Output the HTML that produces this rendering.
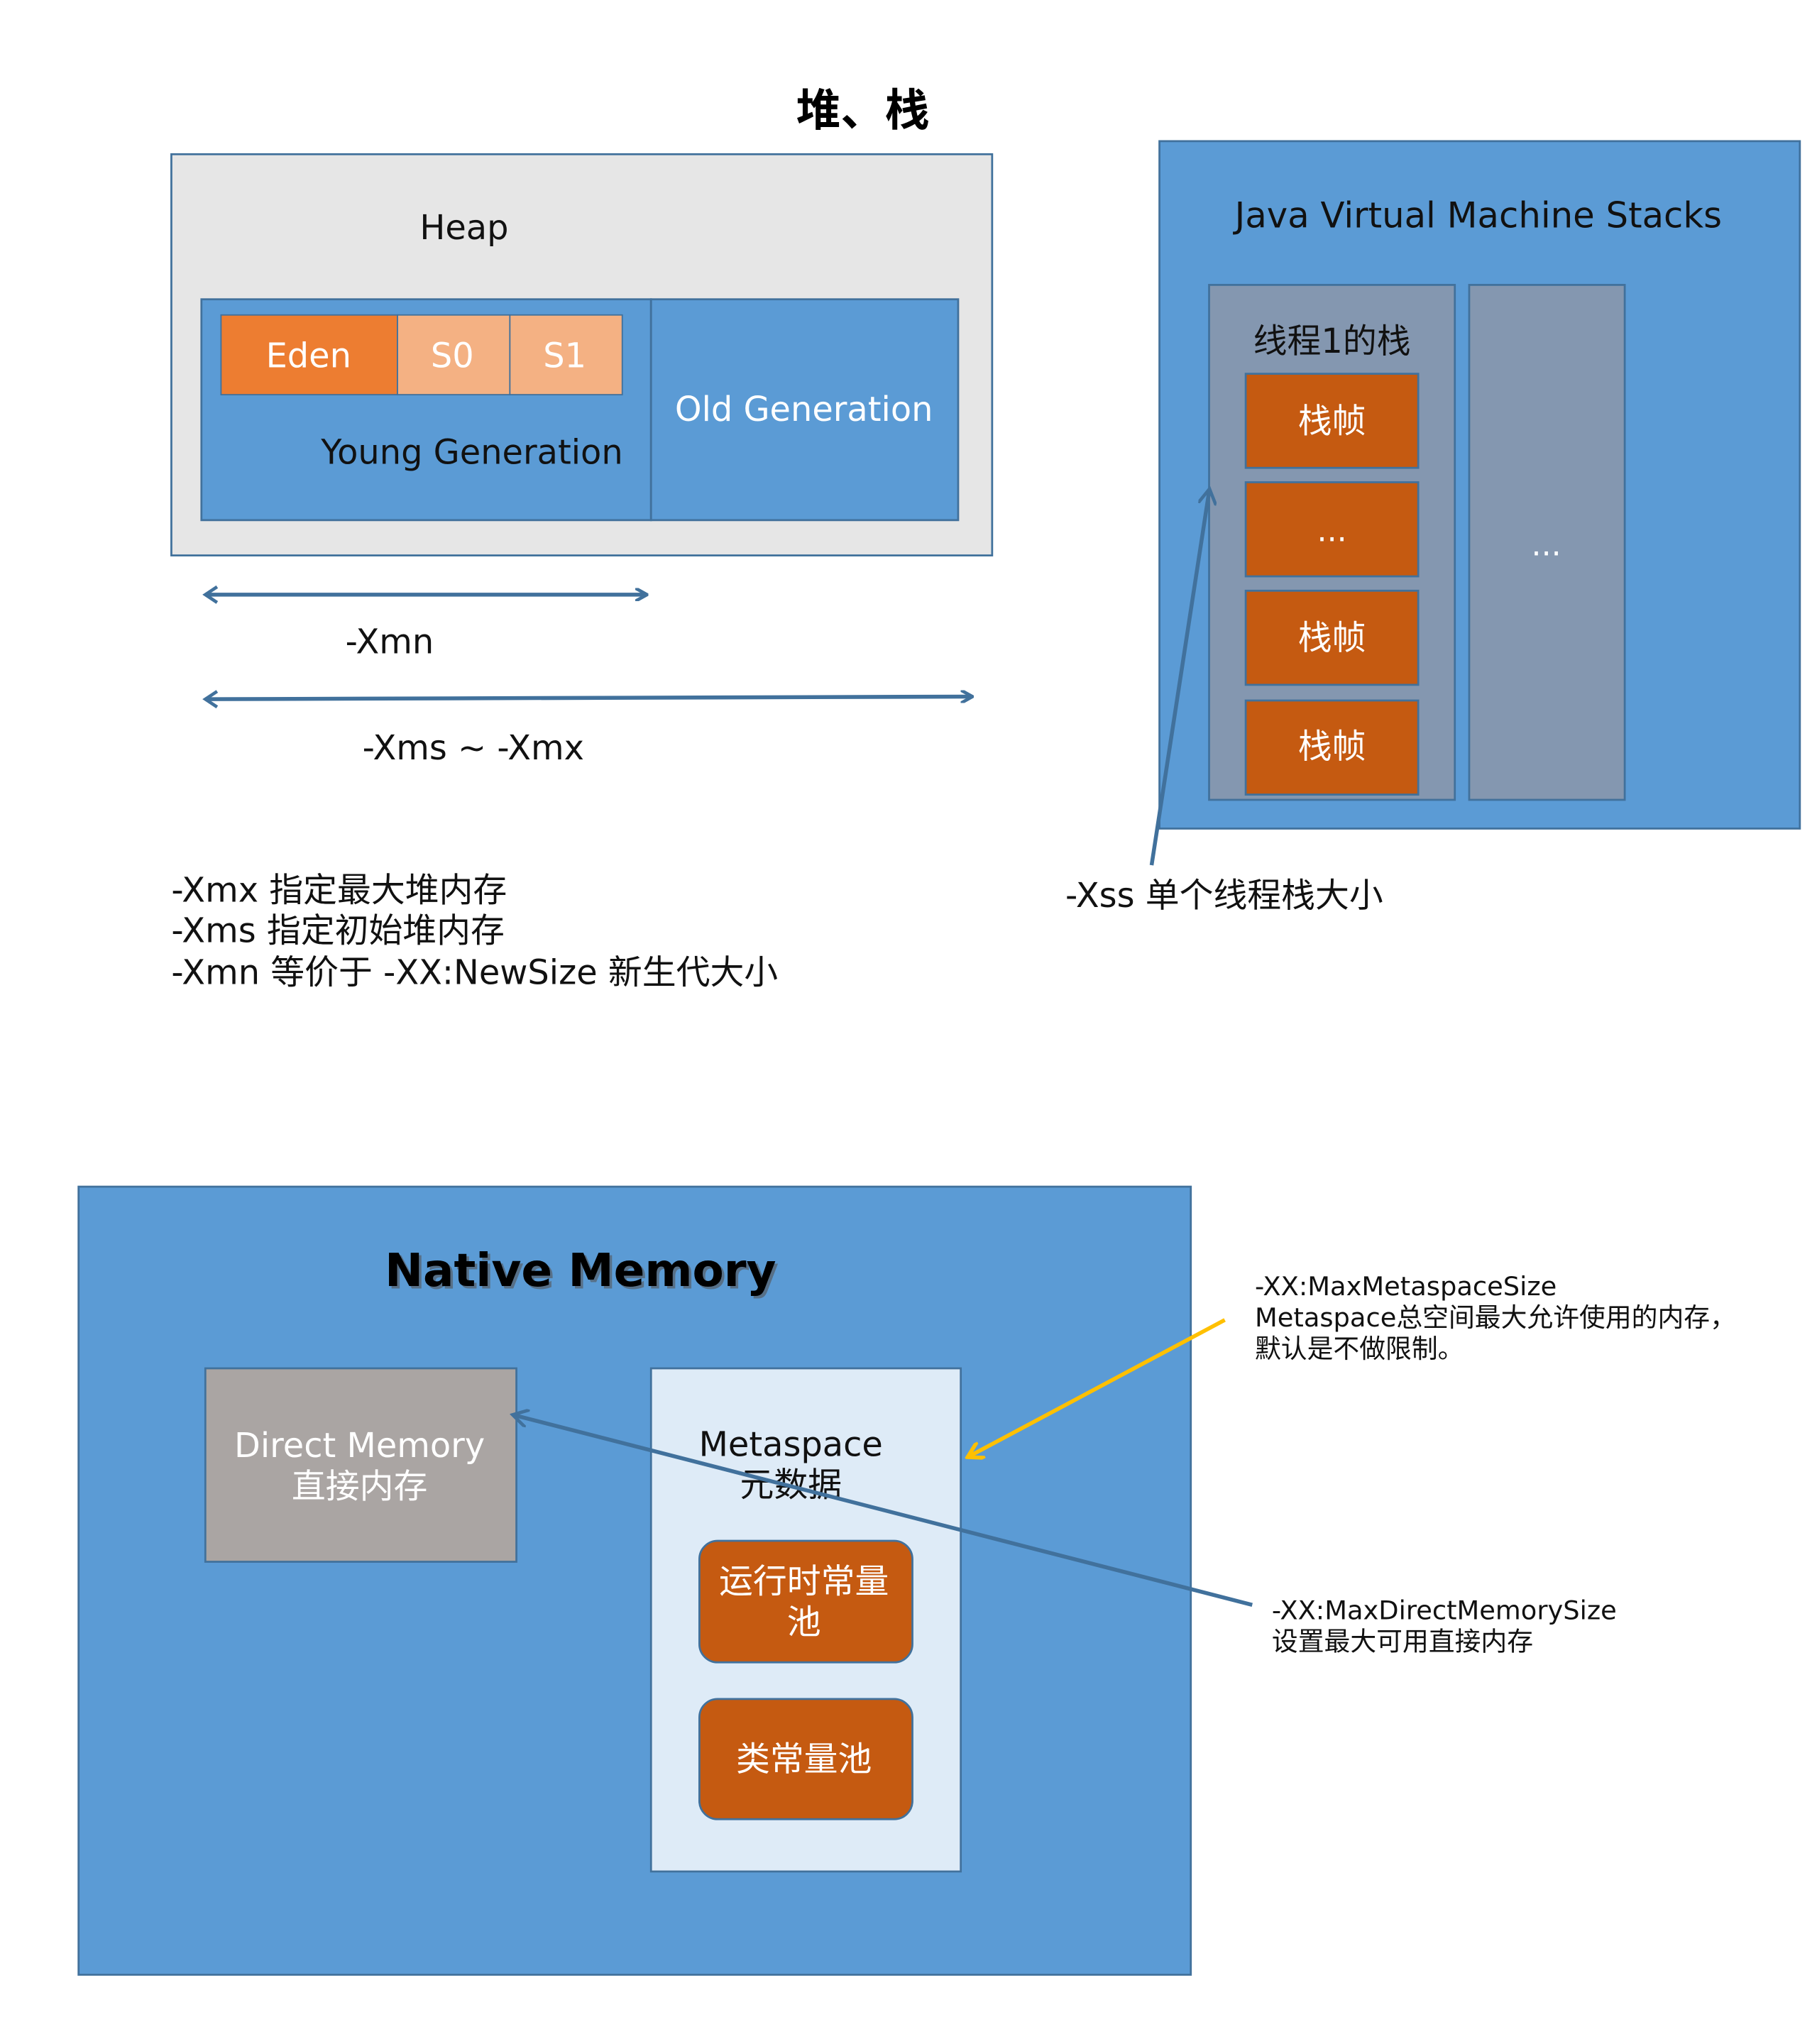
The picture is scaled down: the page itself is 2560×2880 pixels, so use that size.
<!DOCTYPE html>
<html><head><meta charset="utf-8"><style>
html,body{margin:0;padding:0;background:#fff;}
svg{display:block;}
text{font-family:"DejaVu Sans","Liberation Sans","Noto Sans CJK SC",sans-serif;}
</style></head><body>
<svg width="2560" height="2880" viewBox="0 0 1390 1564" xmlns="http://www.w3.org/2000/svg">
<defs>
<marker id="ab" markerWidth="10" markerHeight="10" refX="8" refY="5" orient="auto" markerUnits="userSpaceOnUse">
<path d="M0,0 L9,5 L0,10" fill="none" stroke="#41719c" stroke-width="2.5"/></marker>
<marker id="ay" markerWidth="14" markerHeight="14" refX="10" refY="7" orient="auto" markerUnits="userSpaceOnUse">
<path d="M0,0 L12,7 L0,14" fill="none" stroke="#ffc000" stroke-width="3"/></marker>
<marker id="ab2" markerWidth="14" markerHeight="14" refX="10" refY="7" orient="auto" markerUnits="userSpaceOnUse">
<path d="M0,0 L12,7 L0,14" fill="none" stroke="#41719c" stroke-width="2.5"/></marker>
</defs>
<rect width="1390" height="1564" fill="#fff"/>
<text x="660" y="96" font-size="34" font-weight="bold" text-anchor="middle">堆、栈</text>
<rect x="131" y="118" width="628" height="307" fill="#e6e6e6" stroke="#41719c" stroke-width="1.5"/>
<text x="355" y="183" font-size="26" text-anchor="middle" fill="#111">Heap</text>
<rect x="154" y="229" width="344" height="169" fill="#5b9bd5" stroke="#41719c" stroke-width="1.5"/>
<rect x="498" y="229" width="235" height="169" fill="#5b9bd5" stroke="#41719c" stroke-width="1.5"/>
<rect x="169" y="241" width="135" height="61" fill="#ed7d31" stroke="#41719c" stroke-width="1"/>
<rect x="304" y="241" width="86" height="61" fill="#f4b183" stroke="#41719c" stroke-width="1"/>
<rect x="390" y="241" width="86" height="61" fill="#f4b183" stroke="#41719c" stroke-width="1"/>
<text x="236" y="281" font-size="26" text-anchor="middle" fill="#fff">Eden</text>
<text x="346" y="281" font-size="26" text-anchor="middle" fill="#fff">S0</text>
<text x="432" y="281" font-size="26" text-anchor="middle" fill="#fff">S1</text>
<text x="361" y="355" font-size="26" text-anchor="middle" fill="#111">Young Generation</text>
<text x="615" y="322" font-size="26" text-anchor="middle" fill="#fff">Old Generation</text>
<line x1="157" y1="455" x2="494" y2="455" stroke="#41719c" stroke-width="3" marker-end="url(#ab)"/>
<path d="M166,449 L157,455 L166,461" fill="none" stroke="#41719c" stroke-width="2.5"/>
<text x="298" y="500" font-size="26" text-anchor="middle" fill="#111">-Xmn</text>
<line x1="157" y1="535" x2="743" y2="533" stroke="#41719c" stroke-width="3" marker-end="url(#ab)"/>
<path d="M166,529 L157,535 L166,541" fill="none" stroke="#41719c" stroke-width="2.5"/>
<text x="362" y="581" font-size="26" text-anchor="middle" fill="#111">-Xms ~ -Xmx</text>
<text x="131" y="690" font-size="26" fill="#111">-Xmx 指定最大堆内存</text>
<text x="131" y="721" font-size="26" fill="#111">-Xms 指定初始堆内存</text>
<text x="131" y="753" font-size="26" fill="#111">-Xmn 等价于 -XX:NewSize 新生代大小</text>
<rect x="887" y="108" width="490" height="526" fill="#5b9bd5" stroke="#41719c" stroke-width="1.5"/>
<text x="1131" y="174" font-size="27" text-anchor="middle" fill="#111">Java Virtual Machine Stacks</text>
<rect x="925" y="218" width="188" height="394" fill="#8497b0" stroke="#41719c" stroke-width="1.5"/>
<rect x="1124" y="218" width="119" height="394" fill="#8497b0" stroke="#41719c" stroke-width="1.5"/>
<text x="1183" y="425" font-size="24" text-anchor="middle" fill="#fff">...</text>
<text x="1019" y="270" font-size="26" text-anchor="middle" fill="#111">线程1的栈</text>
<rect x="953" y="286" width="132" height="72" fill="#c55a11" stroke="#41719c" stroke-width="1.5"/>
<rect x="953" y="369" width="132" height="72" fill="#c55a11" stroke="#41719c" stroke-width="1.5"/>
<rect x="953" y="452" width="132" height="72" fill="#c55a11" stroke="#41719c" stroke-width="1.5"/>
<rect x="953" y="536" width="132" height="72" fill="#c55a11" stroke="#41719c" stroke-width="1.5"/>
<text x="1019" y="331" font-size="26" text-anchor="middle" fill="#fff">栈帧</text>
<text x="1019" y="414" font-size="24" text-anchor="middle" fill="#fff">...</text>
<text x="1019" y="497" font-size="26" text-anchor="middle" fill="#fff">栈帧</text>
<text x="1019" y="580" font-size="26" text-anchor="middle" fill="#fff">栈帧</text>
<line x1="881" y1="662" x2="925" y2="376" stroke="#41719c" stroke-width="3" marker-end="url(#ab2)"/>
<text x="815" y="694" font-size="26" fill="#111">-Xss 单个线程栈大小</text>
<rect x="60" y="908" width="851" height="603" fill="#5b9bd5" stroke="#41719c" stroke-width="1.5"/>
<text x="446" y="986" font-size="35" font-weight="bold" text-anchor="middle" fill="#555" opacity="0.6">Native Memory</text>
<text x="444" y="984" font-size="35" font-weight="bold" text-anchor="middle" fill="#000">Native Memory</text>
<rect x="157" y="1047" width="238" height="148" fill="#aaa5a3" stroke="#41719c" stroke-width="1.5"/>
<text x="275" y="1115" font-size="26" text-anchor="middle" fill="#fff">Direct Memory</text>
<text x="275" y="1146" font-size="26" text-anchor="middle" fill="#fff">直接内存</text>
<rect x="498" y="1047" width="237" height="385" fill="#deebf7" stroke="#41719c" stroke-width="1.5"/>
<text x="605" y="1114" font-size="26" text-anchor="middle" fill="#111">Metaspace</text>
<text x="605" y="1145" font-size="26" text-anchor="middle" fill="#111">元数据</text>
<rect x="535" y="1179" width="163" height="93" rx="14" fill="#c55a11" stroke="#41719c" stroke-width="1.5"/>
<text x="615" y="1219" font-size="26" text-anchor="middle" fill="#fff">运行时常量</text>
<text x="615" y="1250" font-size="26" text-anchor="middle" fill="#fff">池</text>
<rect x="535" y="1300" width="163" height="92" rx="14" fill="#c55a11" stroke="#41719c" stroke-width="1.5"/>
<text x="615" y="1355" font-size="26" text-anchor="middle" fill="#fff">类常量池</text>
<line x1="937" y1="1010" x2="742" y2="1114" stroke="#ffc000" stroke-width="3" marker-end="url(#ay)"/>
<line x1="958" y1="1228" x2="394" y2="1083" stroke="#41719c" stroke-width="3" marker-end="url(#ab2)"/>
<text x="960" y="991" font-size="20" fill="#111">-XX:MaxMetaspaceSize</text>
<text x="960" y="1015" font-size="20" fill="#111">Metaspace总空间最大允许使用的内存，</text>
<text x="960" y="1039" font-size="20" fill="#111">默认是不做限制。</text>
<text x="973" y="1239" font-size="20" fill="#111">-XX:MaxDirectMemorySize</text>
<text x="973" y="1263" font-size="20" fill="#111">设置最大可用直接内存</text>
</svg>
</body></html>
